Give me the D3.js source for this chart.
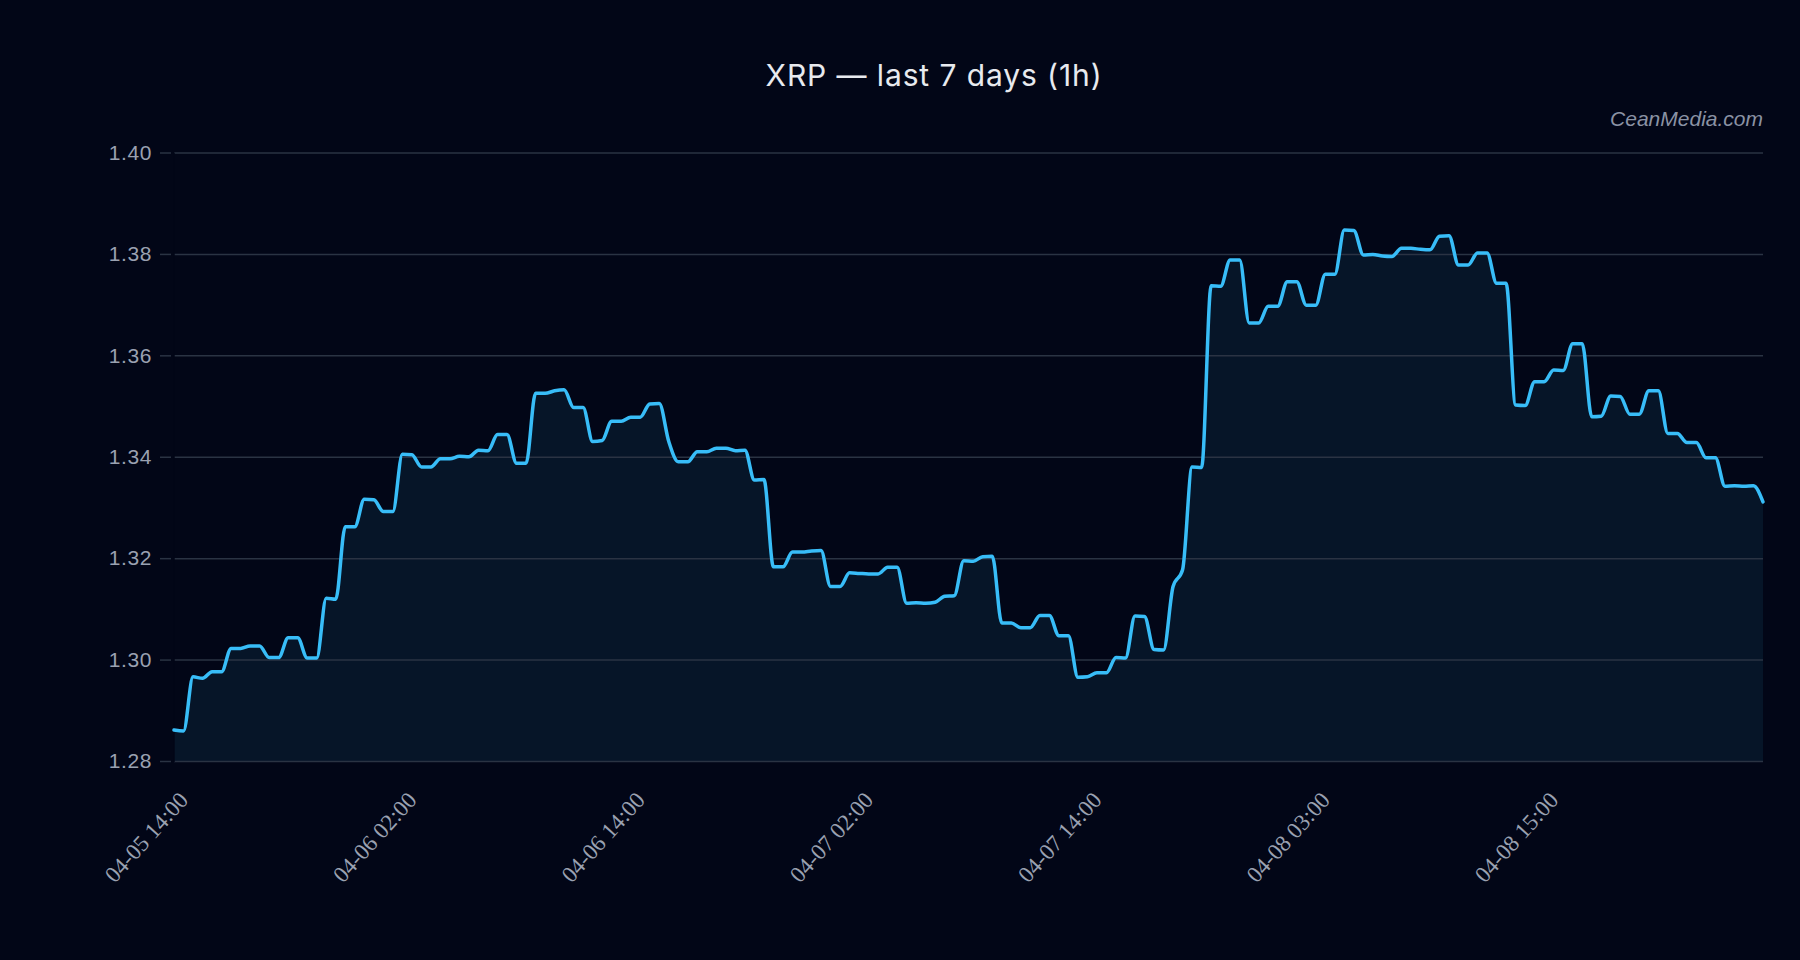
<!DOCTYPE html>
<html>
<head>
<meta charset="utf-8">
<script src="https://cdn.jsdelivr.net/npm/d3@7"></script>
<style>
  html, body { margin: 0; padding: 0; background: #020617; }
  svg { display: block; }
</style>
</head>
<body>
<div id="chart"></div>
<script>
// ---- data ----
const titleText = "XRP \u2014 last 7 days (1h)";
const watermarkText = "CeanMedia.com";

// hourly closes (index 0 .. 167)
const prices = [
  1.2861, 1.2859, 1.2966, 1.2963, 1.2976, 1.2976, 1.3022, 1.3022, 1.3027, 1.3027,
  1.3004, 1.3004, 1.3043, 1.3043, 1.3003, 1.3003, 1.3121, 1.3119, 1.3262, 1.3262,
  1.3316, 1.3315, 1.3292, 1.3292, 1.3405, 1.3404, 1.3380, 1.3380, 1.3396, 1.3396,
  1.3401, 1.3400, 1.3413, 1.3412, 1.3444, 1.3444, 1.3387, 1.3387, 1.3525, 1.3525,
  1.3530, 1.3532, 1.3497, 1.3497, 1.3430, 1.3432, 1.3470, 1.3470, 1.3478, 1.3478,
  1.3504, 1.3505, 1.3430, 1.3390, 1.3390, 1.3410, 1.3410, 1.3417, 1.3417, 1.3412,
  1.3413, 1.3354, 1.3355, 1.3183, 1.3183, 1.3212, 1.3212, 1.3214, 1.3215, 1.3144,
  1.3144, 1.3171, 1.3170, 1.3169, 1.3169, 1.3182, 1.3182, 1.3111, 1.3112, 1.3111,
  1.3113, 1.3125, 1.3126, 1.3195, 1.3194, 1.3203, 1.3204, 1.3072, 1.3072, 1.3063,
  1.3063, 1.3087, 1.3087, 1.3047, 1.3047, 1.2965, 1.2966, 1.2974, 1.2974, 1.3004,
  1.3003, 1.3086, 1.3085, 1.3020, 1.3019, 1.3144, 1.3177, 1.3380, 1.3379, 1.3737,
  1.3736, 1.3788, 1.3788, 1.3664, 1.3664, 1.3697, 1.3697, 1.3745, 1.3745, 1.3699,
  1.3699, 1.3760, 1.3760, 1.3847, 1.3846, 1.3798, 1.3799, 1.3796, 1.3795, 1.3811,
  1.3811, 1.3809, 1.3808, 1.3835, 1.3836, 1.3778, 1.3778, 1.3802, 1.3802, 1.3742,
  1.3742, 1.3502, 1.3501, 1.3548, 1.3548, 1.3571, 1.3570, 1.3623, 1.3623, 1.3479,
  1.3480, 1.3520, 1.3519, 1.3484, 1.3484, 1.3530, 1.3530, 1.3446, 1.3446, 1.3428,
  1.3428, 1.3398, 1.3398, 1.3342, 1.3343, 1.3342, 1.3343, 1.3311
];

// x tick positions (point index) and labels
const xTickIndex = [0, 24, 48, 72, 96, 120, 144];
const xTickLabels = ["04-05 14:00", "04-06 02:00", "04-06 14:00", "04-07 02:00",
                     "04-07 14:00", "04-08 03:00", "04-08 15:00"];

const yTicks = [1.28, 1.30, 1.32, 1.34, 1.36, 1.38, 1.40];
const yDomain = [1.28, 1.40];

// ---- layout ----
const W = 1800, H = 960;
const margin = { top: 152.5, right: 37, bottom: 199, left: 174 };
const innerW = W - margin.left - margin.right;
const innerH = H - margin.top - margin.bottom;

const colors = {
  bg: "#020617",
  grid: "#2a3343",
  line: "#38bdf8",
  area: "#061528",
  tick: "#9aa1b1",
  title: "#e8eaef",
  mark: "#8a92a4"
};

const svg = d3.select("#chart").append("svg")
  .attr("width", W).attr("height", H)
  .style("background", colors.bg);

svg.append("rect").attr("width", W).attr("height", H).attr("fill", colors.bg);

const g = svg.append("g").attr("transform", `translate(${margin.left},${margin.top})`);

const x = d3.scaleLinear().domain([0, prices.length - 1]).range([0, innerW]);
const y = d3.scaleLinear().domain(yDomain).range([innerH, 0]);

// area + line
const area = d3.area()
  .x((d, i) => x(i))
  .y0(innerH)
  .y1(d => y(d))
  .curve(d3.curveMonotoneX);

const line = d3.line()
  .x((d, i) => x(i))
  .y(d => y(d))
  .curve(d3.curveMonotoneX);

g.append("path").datum(prices)
  .attr("d", area)
  .attr("fill", colors.area);

// grid lines
const yAxis = d3.axisLeft(y).tickValues(yTicks).tickFormat(d3.format(".2f"))
  .tickSize(-innerW).tickPadding(22);
const yG = g.append("g").call(yAxis);
yG.select(".domain").remove();
yG.selectAll(".tick line").attr("stroke", colors.grid).attr("stroke-width", 1.5);
yG.selectAll(".tick text")
  .attr("fill", colors.tick)
  .style("font-family", "'Liberation Sans', Arial, sans-serif")
  .style("font-size", "21px")
  .style("letter-spacing", "0.6px");
// small tick marks to the left
yG.selectAll(".tick").append("line")
  .attr("x1", -14).attr("x2", -3)
  .attr("stroke", colors.grid).attr("stroke-width", 1.5);

// left domain line (background colour)
g.append("line")
  .attr("x1", 0).attr("x2", 0).attr("y1", 0).attr("y2", innerH + 1)
  .attr("stroke", colors.bg).attr("stroke-width", 1.5);

g.append("path").datum(prices)
  .attr("d", line)
  .attr("fill", "none")
  .attr("stroke", colors.line)
  .attr("stroke-width", 3.5)
  .attr("stroke-linejoin", "round")
  .attr("stroke-linecap", "round");

// x axis
const xAxis = d3.axisBottom(x).tickValues(xTickIndex)
  .tickFormat((d, i) => xTickLabels[i]).tickSize(0).tickPadding(0);
const xG = g.append("g").attr("transform", `translate(0,${innerH})`).call(xAxis);
xG.select(".domain").remove();
xG.selectAll(".tick text")
  .attr("fill", colors.tick)
  .style("font-family", "'Liberation Serif', 'DejaVu Serif', serif")
  .style("font-size", "23px")
  .style("text-anchor", "end")
  .attr("dy", null)
  .attr("y", 0)
  .attr("transform", "translate(15,40) rotate(-48)");

// title
svg.append("text")
  .attr("x", 934).attr("y", 86)
  .attr("text-anchor", "middle")
  .attr("fill", colors.title)
  .style("font-family", "Inter, 'Liberation Sans', sans-serif")
  .style("font-size", "30px")
  .style("letter-spacing", "0.9px")
  .text(titleText);

// watermark
svg.append("text")
  .attr("x", margin.left + innerW).attr("y", 126)
  .attr("text-anchor", "end")
  .attr("fill", colors.mark)
  .style("font-family", "'Liberation Sans', Arial, sans-serif")
  .style("font-style", "italic")
  .style("font-size", "21px")
  .text(watermarkText);
</script>
</body>
</html>
